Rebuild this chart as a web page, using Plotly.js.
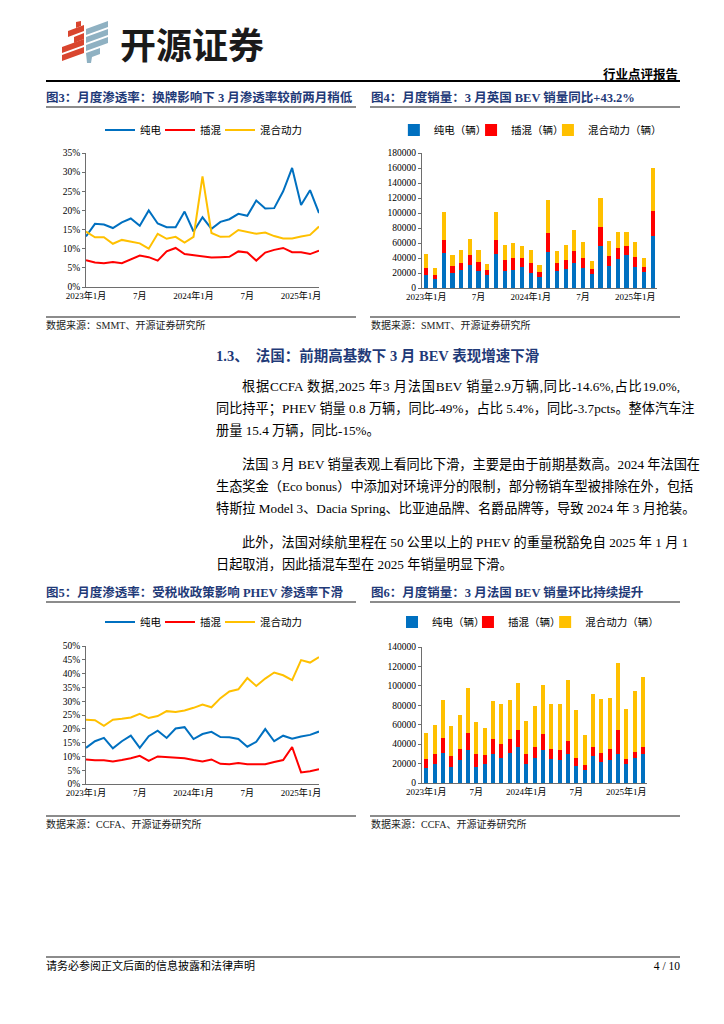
<!DOCTYPE html>
<html><head><meta charset="utf-8">
<script src="https://cdn.plot.ly/plotly-3.0.1.min.js"></script>
<style>
html,body{margin:0;padding:0;background:#fff;}
body{width:724px;height:1024px;position:relative;overflow:hidden;font-family:'Liberation Serif','Noto Sans CJK SC',serif;color:#000;}
.abs{position:absolute;}
.cap{font-weight:bold;color:#1f3a78;font-size:12.5px;white-space:nowrap;line-height:16px;}
.uline{height:2px;background:#8c8c8c;}
.sline{height:1.5px;background:#8c8c8c;}
.src{font-size:10px;color:#222;white-space:nowrap;line-height:14px;}
.tl{position:absolute;left:216px;width:464px;height:22px;line-height:22px;font-size:13.2px;text-align:justify;text-align-last:justify;white-space:nowrap;}
.tl.last{text-align-last:left;}
.ind{left:242px;width:438px;}
</style></head>
<body>
<!-- logo -->
<svg class="abs" style="left:60px;top:21px" width="50" height="42" viewBox="0 0 50 42">
  <g fill="#d9452e">
    <polygon points="16,1 21,0 21,5 16,7"/>
    <polygon points="8,10 24,4 24,10 8,16"/>
    <polygon points="14,16 24,12 24,18 14,22"/>
    <polygon points="2,26 24,18 24,24 2,32"/>
    <polygon points="2,34 24,26 24,32 2,40"/>
  </g>
  <g fill="#8fb1c2">
    <polygon points="26,8 48,0 48,6 26,14"/>
    <polygon points="26,16 48,8 48,14 26,22"/>
    <polygon points="26,24 48,16 48,22 26,30"/>
    <polygon points="26,32 40,27 40,33 32,36 31,42 27,42"/>
  </g>
</svg>
<div class="abs" style="left:120px;top:21px;font-family:'Noto Sans CJK SC',sans-serif;font-weight:bold;font-size:36px;line-height:44px;color:#1a1a1a;white-space:nowrap">开源证券</div>
<div class="abs" style="right:46px;top:66px;font-family:'Noto Sans CJK SC',sans-serif;font-weight:bold;font-size:12.5px;line-height:16px;white-space:nowrap">行业点评报告</div>
<div class="abs" style="left:46px;top:80px;width:634px;height:2px;background:#000"></div>

<!-- captions row 1 -->
<div class="abs cap" style="left:46px;top:90px">图3：月度渗透率：换牌影响下 3 月渗透率较前两月稍低</div>
<div class="abs cap" style="left:371px;top:90px">图4：月度销量：3 月英国 BEV 销量同比+43.2%</div>
<div class="abs uline" style="left:46px;top:106px;width:310px"></div>
<div class="abs uline" style="left:370px;top:106px;width:310px"></div>

<div id="c1" class="abs" style="left:46px;top:112px;width:300px;height:200px"></div>
<div id="c2" class="abs" style="left:370px;top:112px;width:310px;height:200px"></div>

<div class="abs sline" style="left:46px;top:316px;width:310px"></div>
<div class="abs sline" style="left:370px;top:316px;width:310px"></div>
<div class="abs src" style="left:46px;top:319px">数据来源：SMMT、开源证券研究所</div>
<div class="abs src" style="left:371px;top:319px">数据来源：SMMT、开源证券研究所</div>

<!-- section -->
<div class="abs" style="left:216px;top:346px;font-weight:bold;color:#1f3a78;font-size:14.5px;line-height:20px;white-space:nowrap">1.3、&nbsp;&nbsp;法国：前期高基数下 3 月 BEV 表现增速下滑</div>

<div class="tl ind" style="top:376px">根据CCFA 数据,2025 年3 月法国BEV 销量2.9万辆,同比-14.6%,占比19.0%,</div>
<div class="tl" style="top:398px">同比持平；PHEV 销量 0.8 万辆，同比-49%，占比 5.4%，同比-3.7pcts。整体汽车注</div>
<div class="tl last" style="top:420px">册量 15.4 万辆，同比-15%。</div>

<div class="tl ind" style="top:454px">法国 3 月 BEV 销量表观上看同比下滑，主要是由于前期基数高。2024 年法国在</div>
<div class="tl" style="top:476px">生态奖金（Eco bonus）中添加对环境评分的限制，部分畅销车型被排除在外，包括</div>
<div class="tl" style="top:498px">特斯拉 Model 3、Dacia Spring、比亚迪品牌、名爵品牌等，导致 2024 年 3 月抢装。</div>

<div class="tl ind" style="top:532px">此外，法国对续航里程在 50 公里以上的 PHEV 的重量税豁免自 2025 年 1 月 1</div>
<div class="tl last" style="top:554px">日起取消，因此插混车型在 2025 年销量明显下滑。</div>

<!-- captions row 2 -->
<div class="abs cap" style="left:46px;top:585px">图5：月度渗透率：受税收政策影响 PHEV 渗透率下滑</div>
<div class="abs cap" style="left:371px;top:585px">图6：月度销量：3 月法国 BEV 销量环比持续提升</div>
<div class="abs uline" style="left:46px;top:601px;width:310px"></div>
<div class="abs uline" style="left:370px;top:601px;width:310px"></div>

<div id="c3" class="abs" style="left:46px;top:605px;width:300px;height:200px"></div>
<div id="c4" class="abs" style="left:370px;top:605px;width:310px;height:200px"></div>

<div class="abs sline" style="left:46px;top:815px;width:310px"></div>
<div class="abs sline" style="left:370px;top:815px;width:310px"></div>
<div class="abs src" style="left:46px;top:818px">数据来源：CCFA、开源证券研究所</div>
<div class="abs src" style="left:371px;top:818px">数据来源：CCFA、开源证券研究所</div>

<!-- footer -->
<div class="abs sline" style="left:46px;top:956px;width:634px"></div>
<div class="abs" style="left:46px;top:959px;font-size:11px;line-height:15px;white-space:nowrap">请务必参阅正文后面的信息披露和法律声明</div>
<div class="abs" style="right:44px;top:959px;font-size:11.5px;line-height:15px;white-space:nowrap">4 / 10</div>

<script>
const months = ['2023-01','2023-02','2023-03','2023-04','2023-05','2023-06','2023-07','2023-08','2023-09','2023-10','2023-11','2023-12',
                '2024-01','2024-02','2024-03','2024-04','2024-05','2024-06','2024-07','2024-08','2024-09','2024-10','2024-11','2024-12',
                '2025-01','2025-02','2025-03'];
const tickMonths = ['2023-01','2023-07','2024-01','2024-07','2025-01'];
const tickLabels = ['2023年1月','7月','2024年1月','7月','2025年1月'];
const seriesNames = ['纯电','插混','混合动力'];
const barNames = ['纯电（辆）','插混（辆）','混合动力（辆）'];

// UK penetration (%)
const ukBevShare  = [13.2,16.5,16.3,15.4,16.9,17.9,16.0,20.0,16.6,15.6,15.6,19.7,14.5,18.2,15.2,17.0,17.7,19.1,18.6,22.6,20.5,20.6,25.0,31.1,21.4,25.3,19.3];
const ukPhevShare = [7.0,6.4,6.2,6.5,6.2,7.2,8.2,7.8,6.9,9.3,10.2,8.6,8.3,8.1,7.7,7.8,7.9,9.3,9.0,6.9,9.0,9.7,10.2,9.1,9.1,8.6,9.5];
const ukHevShare  = [14.5,13.0,13.0,11.3,12.3,11.9,11.4,10.0,13.9,12.6,13.1,11.6,13.1,28.9,14.1,13.1,13.2,14.9,14.5,13.9,14.2,13.3,12.7,12.7,13.2,13.6,15.8];

// UK sales (units)
const ukBev  = [17000,12500,46900,20500,24100,31300,22800,17000,45100,23200,23700,27700,20500,14700,47800,22300,25400,33900,27200,18300,55800,29000,38400,43800,28600,21000,68800];
const ukPhev = [9300,4500,17400,8500,8900,12500,11600,6700,18700,14700,16000,12000,12500,6300,25000,10700,12100,16100,12500,6700,25000,14300,15200,12000,12900,6700,33900];
const ukHev  = [18800,9300,37500,14800,18300,21400,16000,8900,38000,20100,20600,16100,18300,10200,44600,17000,19600,26800,21900,11200,38800,19200,20500,18300,19200,12000,57100];

// France penetration (%)
const frBevShare  = [13.1,15.5,16.7,12.9,15.5,17.5,13.1,17.3,19.3,16.7,20.1,20.6,16.3,18.1,18.9,17.0,16.9,16.3,13.5,15.3,19.9,15.5,17.5,16.4,17.2,17.8,19.0];
const frPhevShare = [8.9,8.6,8.6,8.2,8.7,9.3,10.2,8.4,10.0,9.8,9.5,9.3,8.7,8.2,8.9,7.3,7.2,7.6,7.2,7.1,7.2,8.0,8.7,13.4,4.2,4.6,5.4];
const frHevShare  = [23.3,23.1,21.1,23.3,23.6,24.1,25.4,23.9,24.6,26.4,26.1,26.6,27.6,28.8,27.8,31.1,33.5,34.3,38.4,35.5,38.2,40.4,39.4,37.6,44.9,44.0,46.0];

// France sales (units)
const frBev  = [15000,19500,30400,16700,23200,33500,16700,19500,30000,25300,30700,37200,19800,25900,33800,24900,23900,29700,17100,13000,27700,21200,23200,29700,19800,25300,29400];
const frPhev = [9200,10500,16000,11000,12000,18100,13300,9500,15400,15000,14400,17400,10200,11300,16700,10600,10200,14000,8900,5800,9500,10200,11300,24900,4800,6500,7800];
const frHev  = [27000,29800,38600,31400,34800,46100,32800,27700,38900,41000,40300,48200,34200,41700,50200,46100,47500,62500,48800,31100,54000,55000,52900,69400,51600,62500,71800];

const colors = ['#0070c0','#ff0000','#ffc000'];
const FONT = "'Liberation Serif','Noto Sans CJK SC',serif";
const AX = '#6e6e6e';
const legendIds = ['legend','legend2','legend3'];

function legends(xs, ycont) {
  const o = {};
  xs.forEach((x,i)=>{
    o[legendIds[i]] = {orientation:'h', xref:'container', yref:'container', x:x, xanchor:'left',
      y:ycont, yanchor:'middle', font:{size:10.5, family: FONT, color:'#000'}, itemwidth:30,
      bgcolor:'rgba(0,0,0,0)', borderwidth:0};
  });
  return o;
}

function lineChart(id, data, ymax, mt, mb, legX, legY) {
  const traces = data.map((y,i)=>({x: months, y: y, type:'scatter', mode:'lines', name: seriesNames[i],
    legend: legendIds[i], line:{color: colors[i], width: 2}}));
  const layout = Object.assign({
    width: 300, height: 200, margin:{l:40, r:27, t:mt, b:mb},
    paper_bgcolor:'#fff', plot_bgcolor:'#fff',
    font:{family: FONT, size: 10, color:'#000'},
    showlegend:true,
    xaxis:{type:'category', range:[0, months.length-1], tickvals: tickMonths, ticktext: tickLabels,
      showline:true, linecolor: AX, linewidth:1, ticks:'', showgrid:false, zeroline:false,
      tickfont:{size:9}, tickangle:0},
    yaxis:{range:[0, ymax], dtick:5, ticksuffix:'%', showline:true, linecolor: AX, linewidth:1,
      ticks:'outside', ticklen:3, tickcolor: AX, showgrid:false, zeroline:false, tickfont:{size:9.5}}
  }, legends(legX, legY));
  Plotly.newPlot(id, traces, layout, {staticPlot:true, displayModeBar:false});
}

function barChart(id, data, ymax, dt, w, mr, mt, mb, legX, legY) {
  const traces = data.map((y,i)=>({x: months, y: y, type:'bar', name: barNames[i],
    legend: legendIds[i], marker:{color: colors[i], line:{width:0}}}));
  const layout = Object.assign({
    width: w, height: 200, margin:{l:52, r:mr, t:mt, b:mb},
    paper_bgcolor:'#fff', plot_bgcolor:'#fff',
    barmode:'stack', bargap:0.52,
    font:{family: FONT, size: 10, color:'#000'},
    showlegend:true,
    xaxis:{type:'category', range:[-0.5, months.length-0.5], tickvals: tickMonths, ticktext: tickLabels,
      showline:true, linecolor: AX, linewidth:1, ticks:'', showgrid:false, zeroline:false,
      tickfont:{size:9}, tickangle:0},
    yaxis:{range:[0, ymax], dtick:dt, showline:true, linecolor: AX, linewidth:1, tickformat:'d',
      ticks:'outside', ticklen:3, tickcolor: AX, showgrid:false, zeroline:false, tickfont:{size:9.5}}
  }, legends(legX, legY));
  Plotly.newPlot(id, traces, layout, {staticPlot:true, displayModeBar:false});
}

lineChart('c1', [ukBevShare, ukPhevShare, ukHevShare], 35, 41, 25, [0.18, 0.38, 0.58], 0.91);
barChart('c2', [ukBev, ukPhev, ukHev], 180000, 20000, 310, 23, 41, 24, [0.077, 0.326, 0.574], 0.91);
lineChart('c3', [frBevShare, frPhevShare, frHevShare], 50, 41, 21, [0.18, 0.38, 0.58], 0.915);
barChart('c4', [frBev, frPhev, frHev], 140000, 20000, 310, 33, 42, 22, [0.071, 0.316, 0.565], 0.915);
</script>
</body></html>
